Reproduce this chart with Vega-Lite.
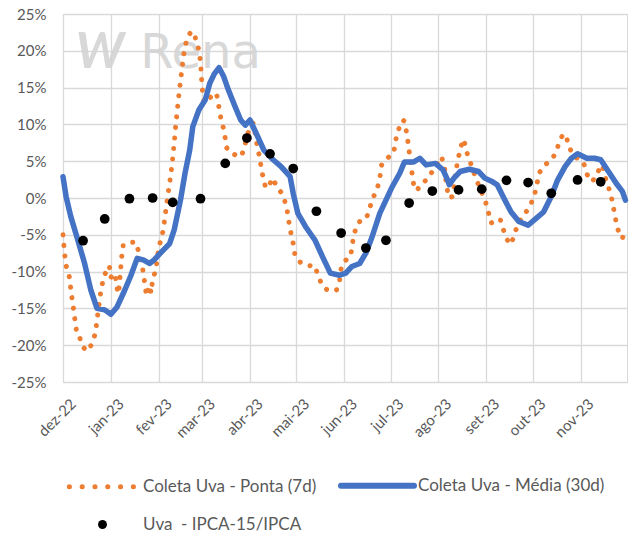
{
  "$schema": "https://vega.github.io/schema/vega-lite/v6.json",
  "width": 564,
  "height": 368,
  "autosize": "none",
  "padding": {"left": 63, "top": 14, "right": 9, "bottom": 154},
  "background": "white",
  "datasets": {
    "p7": [
      {"d":"2022-12-01","v":-5},{"d":"2022-12-02","v":-7.5},{"d":"2022-12-03","v":-9.2},{"d":"2022-12-05","v":-10.6},
      {"d":"2022-12-06","v":-12.3},{"d":"2022-12-07","v":-13.9},{"d":"2022-12-08","v":-15.4},{"d":"2022-12-09","v":-17},
      {"d":"2022-12-10","v":-18.5},{"d":"2022-12-12","v":-19.1},{"d":"2022-12-14","v":-20.3},{"d":"2022-12-17","v":-20.8},
      {"d":"2022-12-20","v":-19.7},{"d":"2022-12-22","v":-18.3},{"d":"2022-12-23","v":-16.6},{"d":"2022-12-24","v":-15},
      {"d":"2022-12-25","v":-13.4},{"d":"2022-12-26","v":-12},{"d":"2022-12-28","v":-10.4},{"d":"2022-12-31","v":-9.2},
      {"d":"2023-01-01","v":-10.8},{"d":"2023-01-03","v":-10.2},{"d":"2023-01-04","v":-10.7},{"d":"2023-01-05","v":-12.3},
      {"d":"2023-01-06","v":-13},{"d":"2023-01-07","v":-10.5},{"d":"2023-01-08","v":-8},{"d":"2023-01-09","v":-6.4},
      {"d":"2023-01-13","v":-6.2},{"d":"2023-01-15","v":-6},{"d":"2023-01-17","v":-6},{"d":"2023-01-19","v":-7.3},
      {"d":"2023-01-21","v":-9},{"d":"2023-01-22","v":-10.2},{"d":"2023-01-23","v":-11.7},{"d":"2023-01-24","v":-13.3},
      {"d":"2023-01-26","v":-11.9},{"d":"2023-01-27","v":-12.9},{"d":"2023-01-28","v":-11.1},{"d":"2023-01-30","v":-9.8},
      {"d":"2023-02-01","v":-6.7},{"d":"2023-02-03","v":-5.2},{"d":"2023-02-04","v":-4.2},{"d":"2023-02-05","v":-2.5},
      {"d":"2023-02-06","v":-1},{"d":"2023-02-07","v":0.6},{"d":"2023-02-08","v":2},{"d":"2023-02-09","v":3.6},
      {"d":"2023-02-10","v":5.4},{"d":"2023-02-11","v":7.5},{"d":"2023-02-12","v":10},{"d":"2023-02-13","v":12},
      {"d":"2023-02-14","v":14},{"d":"2023-02-15","v":15.8},{"d":"2023-02-16","v":17.5},{"d":"2023-02-17","v":19.3},
      {"d":"2023-02-18","v":20.5},{"d":"2023-02-19","v":21.4},{"d":"2023-02-20","v":21.8},{"d":"2023-02-21","v":22.3},
      {"d":"2023-02-22","v":22.6},{"d":"2023-02-23","v":22.6},{"d":"2023-02-24","v":22.3},{"d":"2023-02-25","v":21.5},
      {"d":"2023-02-26","v":20.9},{"d":"2023-02-27","v":20},{"d":"2023-02-28","v":18.5},{"d":"2023-03-01","v":15},
      {"d":"2023-03-02","v":13.3},{"d":"2023-03-03","v":12.9},{"d":"2023-03-05","v":13.4},{"d":"2023-03-07","v":13.8},
      {"d":"2023-03-10","v":14.3},{"d":"2023-03-11","v":13.6},{"d":"2023-03-12","v":12.2},{"d":"2023-03-13","v":11},
      {"d":"2023-03-14","v":10},{"d":"2023-03-15","v":9.4},{"d":"2023-03-16","v":8.1},{"d":"2023-03-17","v":6.8},
      {"d":"2023-03-19","v":6.2},{"d":"2023-03-22","v":5.9},{"d":"2023-03-26","v":5.6},{"d":"2023-03-28","v":6.5},
      {"d":"2023-03-30","v":8.3},{"d":"2023-03-31","v":9},{"d":"2023-04-03","v":10.2},{"d":"2023-04-04","v":9.2},
      {"d":"2023-04-05","v":8},{"d":"2023-04-06","v":6.6},{"d":"2023-04-07","v":5.8},{"d":"2023-04-08","v":4.5},
      {"d":"2023-04-09","v":3.3},{"d":"2023-04-10","v":2.5},{"d":"2023-04-11","v":1.5},{"d":"2023-04-12","v":1.3},
      {"d":"2023-04-14","v":2},{"d":"2023-04-16","v":2.7},{"d":"2023-04-18","v":1.6},{"d":"2023-04-21","v":0.8},
      {"d":"2023-04-23","v":0},{"d":"2023-04-25","v":-1.6},{"d":"2023-04-26","v":-3},{"d":"2023-04-27","v":-4.2},
      {"d":"2023-04-28","v":-5.3},{"d":"2023-04-29","v":-6.2},{"d":"2023-04-30","v":-7.6},{"d":"2023-05-01","v":-8.2},
      {"d":"2023-05-04","v":-8.8},{"d":"2023-05-07","v":-9.1},{"d":"2023-05-10","v":-9.2},{"d":"2023-05-13","v":-9.2},
      {"d":"2023-05-15","v":-10.5},{"d":"2023-05-17","v":-11.5},{"d":"2023-05-19","v":-12.2},{"d":"2023-05-22","v":-12.6},
      {"d":"2023-05-25","v":-12.6},{"d":"2023-05-27","v":-12.5},{"d":"2023-05-29","v":-11.2},{"d":"2023-05-30","v":-9.6},
      {"d":"2023-06-01","v":-8.6},{"d":"2023-06-03","v":-8.3},{"d":"2023-06-05","v":-8},{"d":"2023-06-06","v":-6.8},
      {"d":"2023-06-07","v":-5.2},{"d":"2023-06-09","v":-3.8},{"d":"2023-06-11","v":-3.2},{"d":"2023-06-15","v":-2.9},
      {"d":"2023-06-17","v":-1.8},{"d":"2023-06-19","v":-0.2},{"d":"2023-06-22","v":1},{"d":"2023-06-24","v":2.6},
      {"d":"2023-06-25","v":4.4},{"d":"2023-06-27","v":5.1},{"d":"2023-06-30","v":5.6},{"d":"2023-07-03","v":6.1},
      {"d":"2023-07-04","v":7.4},{"d":"2023-07-05","v":8.6},{"d":"2023-07-07","v":9.8},{"d":"2023-07-09","v":10.6},
      {"d":"2023-07-10","v":10.4},{"d":"2023-07-11","v":9.3},{"d":"2023-07-12","v":8},{"d":"2023-07-13","v":6.4},
      {"d":"2023-07-14","v":4.8},{"d":"2023-07-15","v":3.2},{"d":"2023-07-16","v":1.7},{"d":"2023-07-18","v":1},
      {"d":"2023-07-21","v":2},{"d":"2023-07-24","v":2.4},{"d":"2023-07-27","v":3.3},{"d":"2023-07-30","v":4.2},
      {"d":"2023-08-02","v":5.4},{"d":"2023-08-03","v":5.6},{"d":"2023-08-05","v":4},{"d":"2023-08-06","v":2},
      {"d":"2023-08-07","v":0.8},{"d":"2023-08-08","v":0},{"d":"2023-08-10","v":0.2},{"d":"2023-08-11","v":1.5},
      {"d":"2023-08-12","v":3.3},{"d":"2023-08-13","v":4.5},{"d":"2023-08-15","v":6.6},{"d":"2023-08-17","v":8},
      {"d":"2023-08-18","v":7.4},{"d":"2023-08-19","v":6.4},{"d":"2023-08-21","v":5.2},{"d":"2023-08-23","v":4},
      {"d":"2023-08-25","v":2.8},{"d":"2023-08-28","v":1.2},{"d":"2023-08-31","v":-0.2},{"d":"2023-09-02","v":-1.6},
      {"d":"2023-09-03","v":-2.6},{"d":"2023-09-04","v":-3.4},{"d":"2023-09-06","v":-3.2},{"d":"2023-09-08","v":-2.9},
      {"d":"2023-09-10","v":-2.9},{"d":"2023-09-11","v":-3.6},{"d":"2023-09-12","v":-4.3},{"d":"2023-09-14","v":-5.5},
      {"d":"2023-09-16","v":-6.2},{"d":"2023-09-17","v":-6.3},{"d":"2023-09-19","v":-5},{"d":"2023-09-21","v":-3.8},
      {"d":"2023-09-24","v":-2.6},{"d":"2023-09-27","v":-1.8},{"d":"2023-09-29","v":-1.2},{"d":"2023-10-02","v":0.3},
      {"d":"2023-10-03","v":1.2},{"d":"2023-10-04","v":2.2},{"d":"2023-10-05","v":3.3},{"d":"2023-10-08","v":4.4},
      {"d":"2023-10-11","v":4.8},{"d":"2023-10-13","v":5.2},{"d":"2023-10-15","v":5.8},{"d":"2023-10-17","v":6.8},
      {"d":"2023-10-18","v":7.6},{"d":"2023-10-20","v":8.4},{"d":"2023-10-22","v":8.7},{"d":"2023-10-23","v":8.1},
      {"d":"2023-10-24","v":7.4},{"d":"2023-10-26","v":6.2},{"d":"2023-10-28","v":5.6},{"d":"2023-10-31","v":5.3},
      {"d":"2023-11-02","v":5.1},{"d":"2023-11-04","v":4.2},{"d":"2023-11-05","v":3.3},{"d":"2023-11-07","v":2.4},
      {"d":"2023-11-09","v":2.3},{"d":"2023-11-10","v":3},{"d":"2023-11-12","v":3.5},{"d":"2023-11-14","v":4.2},
      {"d":"2023-11-15","v":4.5},{"d":"2023-11-16","v":3.5},{"d":"2023-11-17","v":2.8},{"d":"2023-11-18","v":2},
      {"d":"2023-11-19","v":1.5},{"d":"2023-11-20","v":0.8},{"d":"2023-11-21","v":0},{"d":"2023-11-22","v":-1},
      {"d":"2023-11-23","v":-2.2},{"d":"2023-11-24","v":-3.3},{"d":"2023-11-25","v":-4.2},{"d":"2023-11-26","v":-4.8},
      {"d":"2023-11-27","v":-5.2},{"d":"2023-11-28","v":-5.5},{"d":"2023-11-29","v":-4.8},{"d":"2023-11-30","v":-4.3}
    ],
    "m30": [
      {"d":"2022-12-01","v":2.9},{"d":"2022-12-03","v":0.2},{"d":"2022-12-06","v":-2.5},{"d":"2022-12-10","v":-5.3},
      {"d":"2022-12-15","v":-8.9},{"d":"2022-12-19","v":-12.5},{"d":"2022-12-23","v":-15},{"d":"2022-12-28","v":-15.2},
      {"d":"2023-01-01","v":-15.8},{"d":"2023-01-05","v":-14.8},{"d":"2023-01-10","v":-12.5},{"d":"2023-01-14","v":-10.5},
      {"d":"2023-01-18","v":-8.2},{"d":"2023-01-22","v":-8.4},{"d":"2023-01-26","v":-8.9},{"d":"2023-01-29","v":-8.4},
      {"d":"2023-02-02","v":-7.5},{"d":"2023-02-08","v":-6.2},{"d":"2023-02-11","v":-4.3},{"d":"2023-02-15","v":-0.3},
      {"d":"2023-02-18","v":3.4},{"d":"2023-02-21","v":6.5},{"d":"2023-02-23","v":9.7},{"d":"2023-02-27","v":12},
      {"d":"2023-03-03","v":13.3},{"d":"2023-03-06","v":15.6},{"d":"2023-03-09","v":16.9},{"d":"2023-03-12","v":17.7},
      {"d":"2023-03-15","v":16.5},{"d":"2023-03-18","v":14.7},{"d":"2023-03-22","v":12.6},{"d":"2023-03-26","v":10.6},
      {"d":"2023-03-29","v":9.9},{"d":"2023-04-01","v":10.6},{"d":"2023-04-05","v":8.8},{"d":"2023-04-10","v":6.5},
      {"d":"2023-04-16","v":5.2},{"d":"2023-04-21","v":4.3},{"d":"2023-04-27","v":2.9},{"d":"2023-04-29","v":0.6},
      {"d":"2023-05-02","v":-2.1},{"d":"2023-05-07","v":-3.9},{"d":"2023-05-13","v":-5.7},{"d":"2023-05-18","v":-8},
      {"d":"2023-05-23","v":-10.2},{"d":"2023-05-29","v":-10.5},{"d":"2023-06-02","v":-10.2},{"d":"2023-06-06","v":-9.3},
      {"d":"2023-06-11","v":-8.9},{"d":"2023-06-15","v":-7.5},{"d":"2023-06-19","v":-5.3},{"d":"2023-06-24","v":-2.1},
      {"d":"2023-06-28","v":-0.3},{"d":"2023-07-02","v":1.5},{"d":"2023-07-07","v":3.4},{"d":"2023-07-10","v":4.9},
      {"d":"2023-07-13","v":4.9},{"d":"2023-07-16","v":4.9},{"d":"2023-07-20","v":5.4},{"d":"2023-07-24","v":4.5},
      {"d":"2023-07-30","v":4.7},{"d":"2023-08-04","v":3.8},{"d":"2023-08-07","v":2.4},{"d":"2023-08-08","v":1.8},
      {"d":"2023-08-11","v":2.7},{"d":"2023-08-15","v":3.6},{"d":"2023-08-21","v":3.9},{"d":"2023-08-27","v":3.6},
      {"d":"2023-08-31","v":2.7},{"d":"2023-09-05","v":2.2},{"d":"2023-09-08","v":1.8},{"d":"2023-09-13","v":-0.3},
      {"d":"2023-09-17","v":-1.9},{"d":"2023-09-22","v":-3.2},{"d":"2023-09-28","v":-3.7},{"d":"2023-10-03","v":-2.8},
      {"d":"2023-10-08","v":-1.9},{"d":"2023-10-13","v":0.2},{"d":"2023-10-17","v":2.4},{"d":"2023-10-22","v":4.3},
      {"d":"2023-10-26","v":5.4},{"d":"2023-10-30","v":6},{"d":"2023-11-05","v":5.4},{"d":"2023-11-10","v":5.4},
      {"d":"2023-11-14","v":5.2},{"d":"2023-11-19","v":3.6},{"d":"2023-11-24","v":2},{"d":"2023-11-28","v":0.9},
      {"d":"2023-11-30","v":-0.3}
    ],
    "ipca": [
      {"d":"2022-12-14","v":-5.8},{"d":"2022-12-28","v":-2.85},{"d":"2023-01-13","v":-0.1},{"d":"2023-01-28","v":0},
      {"d":"2023-02-10","v":-0.6},{"d":"2023-02-28","v":-0.1},{"d":"2023-03-16","v":4.7},{"d":"2023-03-30","v":8.15},
      {"d":"2023-04-14","v":6},{"d":"2023-04-29","v":4},{"d":"2023-05-14","v":-1.8},{"d":"2023-05-30","v":-4.76},
      {"d":"2023-06-15","v":-6.8},{"d":"2023-06-28","v":-5.75},{"d":"2023-07-13","v":-0.68},{"d":"2023-07-28","v":0.95},
      {"d":"2023-08-14","v":1.1},{"d":"2023-08-29","v":1.2},{"d":"2023-09-14","v":2.4},{"d":"2023-09-28","v":2.1},
      {"d":"2023-10-13","v":0.64},{"d":"2023-10-30","v":2.45},{"d":"2023-11-14","v":2.2}
    ]
  },
  "layer": [
    {
      "data": {"values": [{}]},
      "mark": {"type": "text", "text": "Rena", "font": "DejaVu Sans", "fontSize": 48, "align": "left", "baseline": "alphabetic", "fill": "#d4d4d4", "opacity": 0.9},
      "encoding": {
        "x": {"datum": {"year": 2023, "month": 1, "date": 20, "utc": true}, "type": "temporal",
          "scale": {"type": "utc", "domain": [{"year": 2022, "month": 12, "date": 1, "utc": true}, {"year": 2023, "month": 12, "date": 1, "utc": true}]},
          "axis": {
            "title": null,
            "values": [
              {"year": 2022, "month": 12, "date": 1, "utc": true},
              {"year": 2023, "month": 1, "date": 1, "utc": true},
              {"year": 2023, "month": 2, "date": 1, "utc": true},
              {"year": 2023, "month": 3, "date": 1, "utc": true},
              {"year": 2023, "month": 4, "date": 1, "utc": true},
              {"year": 2023, "month": 5, "date": 1, "utc": true},
              {"year": 2023, "month": 6, "date": 1, "utc": true},
              {"year": 2023, "month": 7, "date": 1, "utc": true},
              {"year": 2023, "month": 8, "date": 1, "utc": true},
              {"year": 2023, "month": 9, "date": 1, "utc": true},
              {"year": 2023, "month": 10, "date": 1, "utc": true},
              {"year": 2023, "month": 11, "date": 1, "utc": true}
            ],
            "labelExpr": "['jan','fev','mar','abr','mai','jun','jul','ago','set','out','nov','dez'][utcmonth(datum.value)] + '-' + utcFormat(datum.value, '%y')",
            "labelAngle": -45, "labelPadding": 14, "labelOffset": 5, "labelOverlap": false,
            "ticks": false, "domain": false, "grid": true
          }
        },
        "y": {"datum": 17.6, "type": "quantitative",
          "scale": {"domain": [-25, 25], "nice": false},
          "axis": {
            "title": null,
            "values": [-25, -20, -15, -10, -5, 0, 5, 10, 15, 20, 25],
            "labelExpr": "datum.value + '%'",
            "labelPadding": 17, "labelOverlap": false,
            "ticks": false, "domain": false, "grid": true
          }
        }
      }
    },
    {
      "data": {"values": [{}]},
      "mark": {"type": "text", "text": "W", "font": "Lato", "fontSize": 50, "fontWeight": "bold", "fontStyle": "italic", "align": "center", "baseline": "alphabetic", "fill": "#d4d4d4", "opacity": 0.9},
      "encoding": {
        "x": {"datum": {"year": 2022, "month": 12, "date": 25, "utc": true}, "type": "temporal",
          "scale": {"type": "utc", "domain": [{"year": 2022, "month": 12, "date": 1, "utc": true}, {"year": 2023, "month": 12, "date": 1, "utc": true}]},
          "axis": {
            "title": null,
            "values": [
              {"year": 2022, "month": 12, "date": 1, "utc": true},
              {"year": 2023, "month": 1, "date": 1, "utc": true},
              {"year": 2023, "month": 2, "date": 1, "utc": true},
              {"year": 2023, "month": 3, "date": 1, "utc": true},
              {"year": 2023, "month": 4, "date": 1, "utc": true},
              {"year": 2023, "month": 5, "date": 1, "utc": true},
              {"year": 2023, "month": 6, "date": 1, "utc": true},
              {"year": 2023, "month": 7, "date": 1, "utc": true},
              {"year": 2023, "month": 8, "date": 1, "utc": true},
              {"year": 2023, "month": 9, "date": 1, "utc": true},
              {"year": 2023, "month": 10, "date": 1, "utc": true},
              {"year": 2023, "month": 11, "date": 1, "utc": true}
            ],
            "labelExpr": "['jan','fev','mar','abr','mai','jun','jul','ago','set','out','nov','dez'][utcmonth(datum.value)] + '-' + utcFormat(datum.value, '%y')",
            "labelAngle": -45, "labelPadding": 14, "labelOffset": 5, "labelOverlap": false,
            "ticks": false, "domain": false, "grid": true
          }
        },
        "y": {"datum": 17.6, "type": "quantitative",
          "scale": {"domain": [-25, 25], "nice": false},
          "axis": {
            "title": null,
            "values": [-25, -20, -15, -10, -5, 0, 5, 10, 15, 20, 25],
            "labelExpr": "datum.value + '%'",
            "labelPadding": 17, "labelOverlap": false,
            "ticks": false, "domain": false, "grid": true
          }
        }
      }
    },
    {
      "encoding": {
        "x": {"field": "d", "type": "temporal",
          "scale": {"type": "utc", "domain": [{"year": 2022, "month": 12, "date": 1, "utc": true}, {"year": 2023, "month": 12, "date": 1, "utc": true}]},
          "axis": {
            "title": null,
            "values": [
              {"year": 2022, "month": 12, "date": 1, "utc": true},
              {"year": 2023, "month": 1, "date": 1, "utc": true},
              {"year": 2023, "month": 2, "date": 1, "utc": true},
              {"year": 2023, "month": 3, "date": 1, "utc": true},
              {"year": 2023, "month": 4, "date": 1, "utc": true},
              {"year": 2023, "month": 5, "date": 1, "utc": true},
              {"year": 2023, "month": 6, "date": 1, "utc": true},
              {"year": 2023, "month": 7, "date": 1, "utc": true},
              {"year": 2023, "month": 8, "date": 1, "utc": true},
              {"year": 2023, "month": 9, "date": 1, "utc": true},
              {"year": 2023, "month": 10, "date": 1, "utc": true},
              {"year": 2023, "month": 11, "date": 1, "utc": true}
            ],
            "labelExpr": "['jan','fev','mar','abr','mai','jun','jul','ago','set','out','nov','dez'][utcmonth(datum.value)] + '-' + utcFormat(datum.value, '%y')",
            "labelAngle": -45, "labelPadding": 14, "labelOffset": 5, "labelOverlap": false,
            "ticks": false, "domain": false, "grid": true
          }
        },
        "y": {"field": "v", "type": "quantitative",
          "scale": {"domain": [-25, 25], "nice": false},
          "axis": {
            "title": null,
            "values": [-25, -20, -15, -10, -5, 0, 5, 10, 15, 20, 25],
            "labelExpr": "datum.value + '%'",
            "labelPadding": 17, "labelOverlap": false,
            "ticks": false, "domain": false, "grid": true
          }
        }
      },
      "layer": [
        {
          "data": {"name": "p7"},
          "mark": {"type": "line", "strokeWidth": 5, "strokeDash": [0.1, 10.5], "strokeCap": "round", "strokeJoin": "round"},
          "encoding": {
            "color": {
              "datum": "Coleta Uva - Ponta (7d)", "type": "nominal",
              "scale": {
                "domain": ["Coleta Uva - Ponta (7d)", "Coleta Uva - Média (30d)", "Uva\u00a0 - IPCA-15/IPCA"],
                "range": ["#ED7D31", "#4472C4", "#000000"]
              },
              "legend": {
                "title": null,
                "orient": "none",
                "direction": "horizontal",
                "legendX": 31,
                "legendY": 463,
                "columns": 2,
                "columnPadding": 12,
                "rowPadding": 17,
                "padding": 0,
                "symbolSize": 80,
                "symbolStrokeWidth": 0,
                "labelOffset": 32,
                "labelFontSize": 17,
                "labelLimit": 400,
                "labelColor": "#595959",
                "labelFont": "Lato",
                "encode": {
                  "symbols": {
                    "update": {
                      "shape": {"signal": "datum.value == 'Coleta Uva - Ponta (7d)' || datum.value == 'Coleta Uva - Média (30d)' ? 'stroke' : 'circle'"},
                      "size": {"signal": "datum.value == 'Coleta Uva - Ponta (7d)' ? 4400 : (datum.value == 'Coleta Uva - Média (30d)' ? 5329 : 80)"},
                      "fill": {"signal": "datum.value == 'Coleta Uva - Ponta (7d)' || datum.value == 'Coleta Uva - Média (30d)' ? 'transparent' : '#000000'"},
                      "stroke": {"signal": "datum.value == 'Coleta Uva - Ponta (7d)' ? '#ED7D31' : (datum.value == 'Coleta Uva - Média (30d)' ? '#4472C4' : '#000000')"},
                      "strokeWidth": {"signal": "datum.value == 'Coleta Uva - Ponta (7d)' ? 5 : (datum.value == 'Coleta Uva - Média (30d)' ? 6 : 0)"},
                      "strokeDash": {"signal": "datum.value == 'Coleta Uva - Ponta (7d)' ? [0.1, 12.7] : [1, 0]"},
                      "strokeCap": {"value": "round"},
                      "opacity": {"value": 1}
                    }
                  }
                }
              }
            }
          }
        },
        {
          "data": {"name": "m30"},
          "mark": {"type": "line", "strokeWidth": 5.5, "strokeCap": "round", "strokeJoin": "round"},
          "encoding": {
            "color": {"datum": "Coleta Uva - Média (30d)", "type": "nominal"}
          }
        },
        {
          "data": {"name": "ipca"},
          "mark": {"type": "point", "filled": true, "size": 95, "opacity": 1},
          "encoding": {
            "color": {"datum": "Uva\u00a0 - IPCA-15/IPCA", "type": "nominal"}
          }
        }
      ]
    }
  ],
  "config": {
    "font": "Lato",
    "view": {"stroke": "#d9d9d9", "strokeWidth": 1},
    "axis": {
      "gridColor": "#d9d9d9",
      "gridWidth": 1.3,
      "gridOpacity": 1,
      "labelColor": "#595959",
      "labelFontSize": 15,
      "labelFont": "Lato"
    }
  }
}
